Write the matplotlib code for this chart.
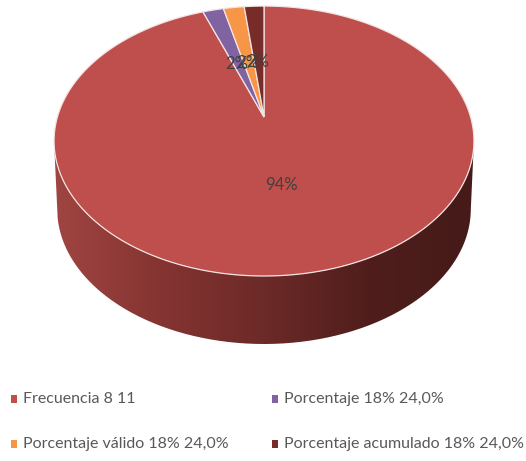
import numpy as np
import matplotlib
matplotlib.use('Agg')
import matplotlib.pyplot as plt
from matplotlib.colors import LinearSegmentedColormap
from matplotlib.patches import PathPatch, Rectangle
from matplotlib.path import Path

# Data
labels = ['Frecuencia 8 11', 'Porcentaje 18% 24,0%',
          'Porcentaje válido 18% 24,0%', 'Porcentaje acumulado 18% 24,0%']
values = [94.4, 1.9, 1.9, 1.8]
colors = ['#BE4F4C', '#8064A2', '#F79646', '#772C2A']

plt.rcParams['font.family'] = ['Lato', 'DejaVu Sans']

# Pie geometry in pixels (perspective circle)
cx, cy = 264, 117
a, b, k = 206.6, 130.7, 0.178
depth = 68
shrink = 0.985


def project(theta, r=1.0):
    # theta clockwise from 12 o'clock
    x = cx + a * r * np.sin(theta) / (1 + k * r * np.cos(theta))
    y = cy - b * r * np.cos(theta) / (1 + k * r * np.cos(theta))
    return x, y


fig = plt.figure(figsize=(5.26, 4.61), dpi=100)
ax = fig.add_axes([0, 0, 1, 1])
ax.set_xlim(0, 526)
ax.set_ylim(461, 0)
ax.axis('off')

# Side wall, front half of the rim
t = np.linspace(np.pi / 2 + 0.18, 3 * np.pi / 2 - 0.18, 300)
xt, yt = project(t)
xb = cx + (xt - cx) * shrink
yb = yt + depth
wall_x = np.r_[xt, xb[::-1]]
wall_y = np.r_[yt, yb[::-1]]
wall = PathPatch(Path(np.c_[wall_x, wall_y]), fc='none', ec='none')
ax.add_patch(wall)
cmap = LinearSegmentedColormap.from_list(
    'wall', ['#451A18', '#4F1E1C', '#6C2A28', '#853432', '#A04541'])
grad = np.linspace(0, 1, 256)[::-1].reshape(1, -1)
im = ax.imshow(grad, cmap=cmap, extent=[54, 474, 345, 140], aspect='auto', zorder=1)
im.set_clip_path(wall)
ax.set_xlim(0, 526)
ax.set_ylim(461, 0)

# Top face, slices run clockwise from 12 o'clock
total = sum(values)
start = 0.0
for v, c in zip(values, colors):
    sweep = 2 * np.pi * v / total
    th = np.linspace(start, start + sweep, 200)
    x, y = project(th)
    ax.fill(np.r_[cx, x], np.r_[cy, y], fc=c, ec='#F3E4E3', lw=0.9, zorder=2)
    mid = start + sweep / 2
    lx, ly = project(mid, 0.473)
    ax.text(lx - 1, ly + 2, f'{v / total:.0%}', ha='center', va='center',
            fontsize=12, color='#404040', zorder=3)
    start += sweep

# Legend
legend_pos = [(14, 399), (275, 399), (14, 444), (275, 444)]
for (lx, ly), name, c in zip(legend_pos, labels, colors):
    ax.add_patch(Rectangle((lx - 3, ly - 4), 6, 8, fc=c, ec='none'))
    ax.text(lx + 9, ly, name, ha='left', va='center', fontsize=11.5, color='#595959')

fig.savefig('out.png', dpi=100)
